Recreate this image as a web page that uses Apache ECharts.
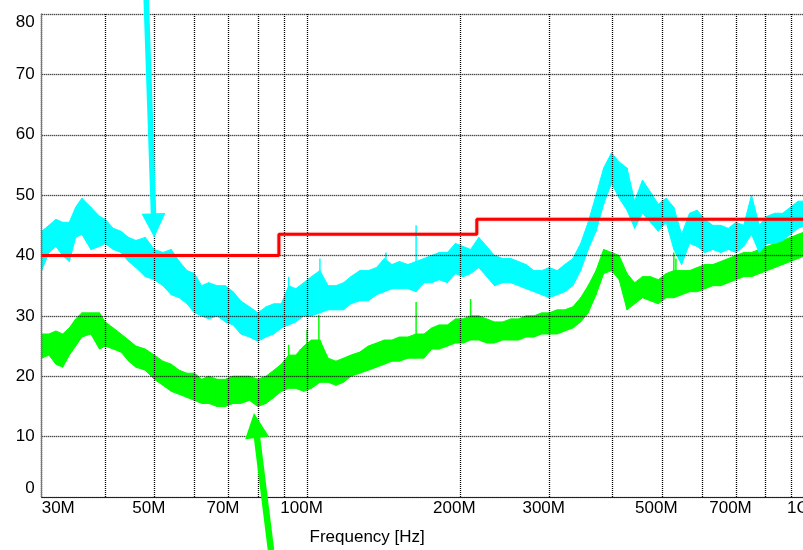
<!DOCTYPE html>
<html><head><meta charset="utf-8">
<script src="https://cdn.jsdelivr.net/npm/echarts@6/dist/echarts.min.js"></script>
<style>html,body{margin:0;padding:0;background:#fff}#c{width:803px;height:550px}</style>
</head><body><div id="c"></div>
<script>
// ---- data (frequency in MHz, level in dBµV/m) ----
const freqMHz = [30,31,32,33,34,35,36,37.5,39,40,41.5,43,44.5,46,48,50,52,54,56,58,60,62,64,66.5,69,71.5,74,77,80,83,86,89,92,95,98.5,102,106,110,114,118,122,127,132,137,142,147,152,158,164,170,176,182,189,196,203,210,218,226,234,243,252,261,270,280,290,300,311,322,334,346,358,371,384,398,412,427,442,458,475,492,510,528,547,567,587,608,630,653,676,700,725,751,778,806,835,865,896,928,961,1000];
const cyanHi = [44,45,46,45.5,45.5,48,49.5,48,46.5,46, 44.5,44,43,42.5,43,41,40.5,41,39,37.5, 37,35,35.5,35,35,34,32.5,31.5,30.5,31.5, 32,32,35,34.5,35.5,36.5,37.5,35,35,35.5, 36.5,37.5,37.5,38,39.5,38.5,39,38.5,39,39.5, 40,40.5,40.5,42,41.5,41,43,41.5,40,39.5, 39.5,39,38.5,37.5,37.5,38,37.5,38.5,39.5,42, 45.5,50,54.5,57,55.5,54.5,49,52.5,50.5,48.5, 49.5,48,43.5,47,47.5,46,45,45,44.5,45.5, 45,50,45,46.5,47,47,48,49,49,49.5];
const cyanLo = [37.5,40.5,41.5,40,39,43,43.5,41,41.5,42, 41,40.5,39,38,36.5,36,35,33.5,33,32, 30.5,30,29.5,30,29,28.5,27,26.5,25.8,26.5, 27,28,28.5,29,30,30,30.5,31,31,31, 32,32.5,32.5,33.5,34,34.5,34.5,34.5,34,35.5, 35.5,36,35.5,37,36.5,37,38,36.5,35,35.5, 35.5,35,34.5,34,33.5,33,33.5,34,35,37.5, 41,44,48.5,52,49.5,47.5,44.5,47,45.5,44, 45.5,41,38.5,42,41.5,40.5,41,40.5,41,40.5, 41.5,43.5,40.5,42,42,42.5,43.5,44.5,45,45];
const greenHi = [27,27,27.5,27,28,29.5,30.5,30.5,30.5,29, 28,27,26,25,24.5,23.5,22.5,22,21,20.5, 20.5,19.5,20,19.5,19.5,20,20,20,19.5,20, 21,22,23.5,23.5,25,26,26,23,22.5,23, 23.5,24,25,25.5,26,26,26.5,26.5,27,27, 28,28.5,28.5,29.5,29.5,30,30,29.5,29,29, 29.5,29.5,30,30,30.5,30.5,31,31,31.5,33, 35,37.5,41,40.5,40,37,35.5,36.5,36.5,36, 37,37.5,37.5,37.5,38,38.5,38.5,39,39.5,40, 40.5,40.5,41,41.5,42,42.5,43,43.5,44,44.5];
const greenLo = [23,23.5,22,21.5,23.5,25,26.5,27,24.5,25, 24.5,24,22.5,21.5,21,19.5,18.5,17.5,17,16.5, 16,15.5,15.5,15,15,15.5,15.5,16,15,15.5, 16.5,17.5,18,18,17.5,18,19,19,18.5,19, 20,20.5,21,21.5,22,22.5,22.5,23,23,23, 24.5,24.5,25,25.5,25.5,26,26,25.5,25.5,26, 26,26,26.5,26.5,27,27,27,27.5,28,29, 30.5,33.5,37,37.5,36,31,32,33,32.5,32, 33,33,33.5,34,34,34.5,35,35,35.5,36, 36.5,36.5,37,37.5,38,38.5,39,39.5,40,40];
// narrow spikes: frequency, foot level, peak level
const cyanSpikeFreq = [92,106,143,164];
const cyanSpikeBase = [32,35,37,37];
const cyanSpikeTop  = [36.5,39.5,40.5,45];
const greenSpikeFreq = [92,97,100,105.5,164,210,528,533];
const greenSpikeBase = [20,20,22,22,25,27,35,35];
const greenSpikeTop  = [25.2,24.5,27.7,30.2,32.3,32.8,40.5,39.5];
// limit line (steps)
const limitFreqMHz = [30,88,88,216,216,960,960,1000];
const limitDb      = [40,40,43.5,43.5,46,46,54,54];
// axes
const gridFreqMHz  = [30,40,50,60,70,80,90,100,200,300,400,500,600,700,800,900,1000];
const xLabelFreqMHz = [30,50,70,100,200,300,500,700,1000];
const xLabelText    = ['30M','50M','70M','100M','200M','300M','500M','700M','1G'];
const yMin = 0, yMax = 80, yStep = 10;
// annotation arrows (data units: MHz, dB)
const cyanArrow  = {tail:[48.2, 82.4], tip:[50, 43]};
const greenArrow = {tail:[84.9, -8.8], tip:[78.6, 13.9]};

const FONT = '"Liberation Sans", Arial, Helvetica, sans-serif';
const CYAN = '#00ffff', GREEN = '#00ff00', RED = '#ff0000';
const lx = f => Math.log10(f);

// band between lower and upper envelope, one quad per frequency step
function band(lo, hi, color) {
  const data = [];
  for (let i = 0; i < freqMHz.length - 1; i++) {
    data.push([lx(freqMHz[i]), lo[i], hi[i], lx(freqMHz[i+1]), lo[i+1], hi[i+1]]);
  }
  return {
    type:'custom', data, encode:{x:[0,3], y:[1,2,4,5]}, z:2, silent:true, clip:true,
    renderItem:(params, api) => {
      const a = api.coord([api.value(0), api.value(1)]);
      const b = api.coord([api.value(0), api.value(2)]);
      const c = api.coord([api.value(3), api.value(5)]);
      const d = api.coord([api.value(3), api.value(4)]);
      return {type:'polygon', shape:{points:[a,b,c,d]}, style:{fill:color, stroke:color, lineWidth:1}};
    }
  };
}
function spikes(fs, base, top, color) {
  return fs.map((f,i)=>({type:'line', data:[[lx(f), base[i]],[lx(f), top[i]]], symbol:'none',
    lineStyle:{color, width:1.5}, z:2, silent:true}));
}

const chart = echarts.init(document.getElementById('c'), null, {renderer:'canvas'});
const lastIdx = xLabelText.length - 1;
const gridLine = {show:true, lineStyle:{color:'#000', width:1.3, type:[1,1]}};
chart.setOption({
  animation:false,
  backgroundColor:'#fff',
  textStyle:{fontFamily:FONT},
  grid:{left:41.7, right:-11.6, top:14, bottom:53, containLabel:false, outerBoundsMode:'none'},
  xAxis:{
    type:'value', min:lx(30), max:lx(1000), z:3,
    name:'Frequency [Hz]', nameLocation:'middle', nameGap:32,
    nameTextStyle:{fontSize:17, color:'#000', fontFamily:FONT, padding:[0,122,0,0]},
    axisLine:{show:true, lineStyle:{color:'#222', width:1}},
    axisTick:{show:false, customValues:gridFreqMHz.map(lx)},
    splitLine:gridLine,
    axisLabel:{
      customValues:xLabelFreqMHz.map(lx), margin:3, fontSize:17, color:'#000', fontFamily:FONT,
      alignMinLabel:'left', alignMaxLabel:'right',
      formatter:(v)=>{
        const i = xLabelFreqMHz.findIndex(f=>Math.abs(lx(f)-v)<1e-6);
        if (i<0) return '';
        if (i===0) return xLabelText[i];
        if (i===lastIdx) return '{e|'+xLabelText[i]+'}';
        return '{m|'+xLabelText[i]+'}';
      },
      rich:{
        m:{padding:[0,11,0,0], fontSize:17, color:'#000', fontFamily:FONT},
        e:{padding:[0,5,0,0], fontSize:17, color:'#000', fontFamily:FONT}
      }
    }
  },
  yAxis:{
    type:'value', min:yMin, max:yMax, interval:yStep, z:3,
    axisLine:{show:true, lineStyle:{color:'#777', width:1.3}},
    axisTick:{show:false},
    splitLine:gridLine,
    axisLabel:{margin:7, fontSize:17, color:'#000', fontFamily:FONT,
      verticalAlignMinLabel:'bottom', verticalAlignMaxLabel:'top'}
  },
  series:[
    band(greenLo, greenHi, GREEN),
    ...spikes(greenSpikeFreq, greenSpikeBase, greenSpikeTop, GREEN),
    band(cyanLo, cyanHi, CYAN),
    ...spikes(cyanSpikeFreq, cyanSpikeBase, cyanSpikeTop, CYAN),
    {type:'line', name:'limit', data:limitFreqMHz.map((f,i)=>[lx(f), limitDb[i]]), symbol:'none',
     lineStyle:{color:RED, width:3, shadowColor:'rgba(255,0,0,0.35)', shadowBlur:2}, z:5, silent:true}
  ]
});

function arrowPoly(tail, tip, shaftW, headL, headW) {
  const dx = tip[0]-tail[0], dy = tip[1]-tail[1], L = Math.hypot(dx,dy);
  const ux = dx/L, uy = dy/L, px = -uy, py = ux;
  const bx = tip[0]-ux*headL, by = tip[1]-uy*headL;
  return [
    [tail[0]+px*shaftW/2, tail[1]+py*shaftW/2],
    [bx+px*shaftW/2, by+py*shaftW/2],
    [bx+px*headW/2, by+py*headW/2],
    tip,
    [bx-px*headW/2, by-py*headW/2],
    [bx-px*shaftW/2, by-py*shaftW/2],
    [tail[0]-px*shaftW/2, tail[1]-py*shaftW/2]
  ];
}
function toPx(p){ return chart.convertToPixel({gridIndex:0}, [lx(p[0]), p[1]]); }
chart.setOption({graphic:[
  {type:'polygon', z:20, silent:true, shape:{points:arrowPoly(toPx(cyanArrow.tail), toPx(cyanArrow.tip), 5.5, 24, 24)}, style:{fill:CYAN}},
  {type:'polygon', z:20, silent:true, shape:{points:arrowPoly(toPx(greenArrow.tail), toPx(greenArrow.tip), 6.5, 25, 24)}, style:{fill:GREEN}}
]});
</script>
</body></html>
